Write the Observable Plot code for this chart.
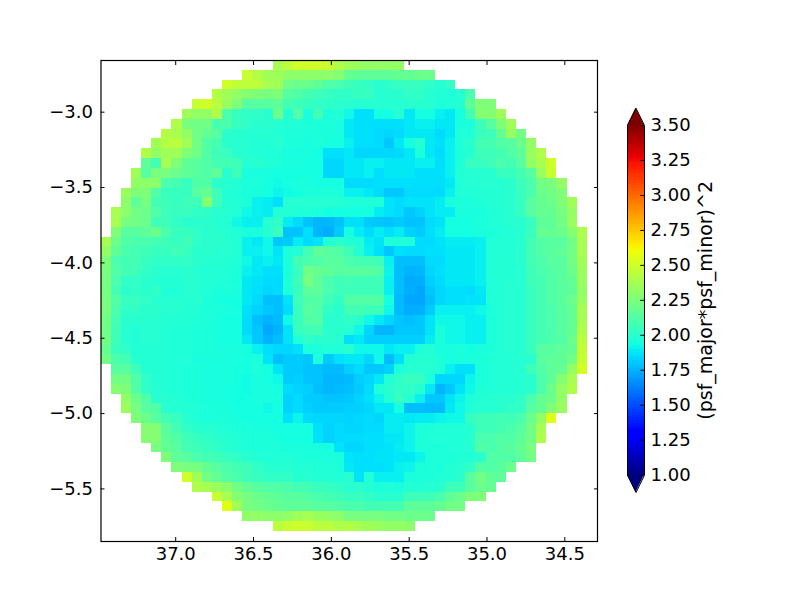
<!DOCTYPE html>
<html><head><meta charset="utf-8">
<script src="https://cdn.jsdelivr.net/npm/d3@7"></script>
<script src="https://cdn.jsdelivr.net/npm/@observablehq/plot@0.6"></script>
<style>
html,body{margin:0;padding:0;background:#fff}
#c{position:relative;width:800px;height:600px;overflow:hidden}
#c svg{position:absolute;left:0;top:0;background:transparent}
</style></head><body><div id="c"></div>
<script>
const colorLabel = "(psf_major*psf_minor)^2";
const xTicks = [37, 36.5, 36, 35.5, 35, 34.5];
const yTicks = [-3, -3.5, -4, -4.5, -5, -5.5];
const barTicks = [1, 1.25, 1.5, 1.75, 2, 2.25, 2.5, 2.75, 3, 3.25, 3.5];
const colorDomain = [1, 3.5];
const xFirstEdge = 37.48, yFirstEdge = -2.657, binSize = 0.0651;
const xLimits = [37.48, 34.29], yLimits = [-5.849, -2.657];
// first filled column of each row
const rowStarts = [17,14,12,11,9,8,7,6,5,4,4,3,3,2,2,1,1,1,0,0,0,0,0,0,0,0,0,0,0,0,0,1,1,1,2,2,3,4,4,5,6,7,8,9,11,12,14,17];
// values x100, row by row
const rows = [
[238,245,250,250,250,248,240,236,234,232,232,232,232],
[248,242,236,236,230,230,230,230,230,228,218,216,216,216,216,218,218,220,220],
[250,246,245,245,238,236,222,220,220,216,212,210,206,204,202,200,202,204,204,204,202,199,202],
[242,236,232,228,226,224,226,214,212,208,206,204,202,202,204,204,199,200,200,202,202,199,198,197,199,210],
[248,250,244,234,226,214,214,214,216,208,206,204,202,202,200,200,199,199,199,199,199,200,200,199,196,197,198,216,226,226],
[236,232,232,240,210,204,202,202,200,220,198,212,195,208,196,198,192,186,186,194,194,199,188,194,194,190,188,194,208,228,228,236],
[240,224,222,222,208,210,204,202,200,200,199,198,197,196,196,196,195,188,186,186,186,186,186,188,190,190,188,188,195,196,206,214,226,236],
[242,238,232,222,218,214,200,200,199,199,199,198,196,196,196,196,195,195,188,186,186,185,184,185,188,188,188,185,188,197,197,204,206,218,234,222],
[236,242,244,236,222,212,208,200,199,199,198,198,199,196,196,195,196,195,194,190,186,186,185,180,188,194,199,188,186,190,197,200,208,208,212,214,220,232],
[240,232,236,236,226,222,212,206,204,200,199,198,197,197,195,195,195,194,186,186,188,184,184,184,184,185,188,196,188,185,190,196,199,206,206,208,212,216,234,240],
[216,208,238,226,216,214,212,208,208,206,199,199,198,197,195,195,194,194,184,184,188,188,190,190,188,188,188,190,190,186,190,197,204,204,206,210,208,214,232,238,250],
[236,214,224,224,220,216,214,212,216,200,206,195,195,195,194,194,194,194,194,184,184,188,188,190,186,188,188,188,186,186,186,190,198,199,199,199,204,204,208,214,234,248],
[232,230,230,210,208,204,212,212,200,199,198,196,196,194,193,194,195,195,194,194,194,185,185,185,186,186,186,186,186,186,186,188,197,199,199,199,199,200,206,210,222,224,232],
[234,226,226,212,204,204,204,214,218,206,198,197,195,195,194,191,193,194,196,196,196,196,190,190,188,185,180,180,185,185,185,185,190,197,197,198,198,199,200,204,210,220,222,226],
[230,216,224,208,206,204,206,206,228,206,198,198,196,190,189,186,199,199,199,199,199,199,197,197,197,197,187,185,187,187,187,189,195,196,196,197,198,199,200,204,214,218,220,226,236],
[238,230,222,220,212,206,204,204,202,202,200,199,197,192,190,189,198,198,197,197,196,194,194,194,194,194,189,187,185,180,183,187,189,189,195,195,195,197,198,200,204,214,218,218,224,232],
[238,224,222,220,206,206,202,200,200,200,199,198,192,190,190,199,202,189,185,179,176,176,179,186,186,181,180,179,181,179,179,185,187,194,194,194,196,197,198,199,200,204,216,216,222,234],
[226,214,214,216,220,210,204,204,202,200,200,199,197,195,195,199,204,179,179,186,176,174,181,194,189,185,189,186,189,183,181,186,189,194,194,194,195,196,197,198,199,204,218,218,220,228,240],
[238,220,212,210,210,208,206,204,206,202,200,200,199,198,190,188,192,180,181,189,185,187,198,200,198,197,189,187,197,197,197,185,185,187,189,189,189,190,197,198,198,199,208,212,214,214,222,238],
[232,216,210,208,206,204,204,206,204,200,200,199,199,198,190,190,192,187,196,198,208,216,214,212,206,198,190,186,180,186,185,185,186,186,188,188,188,190,197,198,198,200,208,212,214,216,222,238],
[226,210,208,208,204,202,202,202,202,200,199,199,198,197,192,188,190,188,196,208,210,212,214,214,210,208,208,206,190,178,178,178,185,185,188,188,188,190,197,198,198,200,208,210,214,214,222,236],
[224,212,208,206,202,200,199,199,200,199,198,198,197,196,190,188,186,186,196,204,222,218,216,214,214,214,214,212,191,178,175,176,184,186,188,188,188,190,197,198,198,199,206,210,212,214,220,234],
[224,210,202,202,200,199,198,198,199,199,198,197,197,196,188,187,185,185,197,206,224,216,210,206,208,206,206,206,190,178,173,174,182,185,188,188,188,190,197,198,199,199,206,208,212,214,218,234],
[224,208,200,202,200,202,197,197,199,199,197,196,196,195,188,186,184,185,197,204,216,216,210,206,206,206,206,206,190,178,174,172,180,184,186,186,185,188,197,198,199,199,204,208,212,214,216,232],
[224,212,204,204,202,200,199,199,199,199,196,195,194,194,188,185,178,178,187,206,212,212,206,202,212,212,212,212,194,177,172,172,178,184,186,186,187,187,197,198,199,199,204,208,212,214,220,234],
[224,210,202,202,200,200,199,199,198,198,196,196,195,194,186,183,180,178,185,204,214,212,202,200,208,208,206,206,192,177,174,174,181,190,190,190,190,192,196,198,199,199,204,208,210,214,218,238],
[222,208,200,199,200,199,198,198,198,197,196,195,194,194,185,178,175,177,192,204,212,212,200,200,202,200,192,188,184,180,178,180,187,192,192,192,190,190,196,198,199,199,204,208,210,214,218,238],
[222,206,199,198,199,199,198,197,197,196,196,195,194,194,185,180,172,175,187,204,206,208,200,200,199,192,184,176,176,180,180,180,187,196,192,192,190,190,196,198,199,199,204,208,210,214,218,240],
[222,206,199,198,199,199,198,197,197,196,196,195,194,194,188,180,175,178,187,197,202,200,200,199,186,188,182,182,182,182,182,182,189,196,192,192,190,190,196,198,199,199,204,208,210,212,220,244],
[218,204,202,198,198,198,198,197,197,196,196,195,195,195,194,190,186,184,184,186,196,196,197,197,199,192,192,192,188,190,190,196,198,195,195,196,194,195,196,198,199,199,204,214,214,216,218,246],
[222,210,208,199,198,198,198,197,197,195,195,195,195,195,194,196,187,178,181,181,180,196,181,186,188,188,184,192,177,186,198,199,199,197,194,195,195,196,197,198,198,199,200,214,216,216,222,248],
[214,214,206,198,198,198,197,196,196,195,195,195,194,194,196,194,187,181,181,179,179,177,177,182,185,180,180,183,196,199,199,199,197,190,186,186,196,197,198,198,199,206,212,216,218,232,252],
[222,222,212,202,198,198,197,196,196,195,195,195,194,193,195,194,192,181,182,179,179,176,176,177,182,184,188,198,202,204,204,196,184,184,184,191,196,197,198,198,199,200,210,216,228,238],
[228,226,212,202,199,198,197,196,196,195,195,194,194,193,195,195,194,185,183,182,178,176,177,178,181,185,197,200,202,202,199,188,176,180,187,192,197,197,198,198,199,200,210,220,232,240],
[232,220,212,200,199,198,197,196,195,195,194,194,194,195,195,195,183,185,181,181,179,179,180,183,186,191,198,204,199,190,180,180,187,191,196,198,199,200,200,202,210,218,220,232],
[234,224,214,212,200,199,198,197,196,195,195,194,194,194,192,194,183,185,182,181,181,181,182,182,184,188,188,194,178,178,177,177,188,192,197,199,199,200,202,202,214,218,226,234],
[226,220,214,208,204,199,197,196,196,195,195,194,194,194,194,186,191,185,184,184,184,183,184,185,184,189,189,188,189,189,191,192,192,204,206,206,208,206,210,220,232,256],
[228,228,214,208,202,200,199,199,197,196,196,195,195,194,194,194,194,186,183,185,184,184,185,185,189,189,191,196,196,197,197,197,199,206,206,208,210,214,222,238],
[228,228,216,212,206,204,202,200,199,198,196,196,196,195,194,194,194,187,183,185,185,185,186,186,188,188,191,196,197,197,197,197,199,210,210,212,212,216,222,240],
[224,218,214,208,206,204,202,199,198,197,196,196,196,195,195,195,195,194,187,184,184,186,186,187,189,191,196,196,196,197,197,199,212,210,212,214,218,224],
[226,216,214,210,208,206,204,202,199,198,197,197,197,196,196,196,196,195,187,186,186,187,187,188,188,191,196,196,196,197,197,200,212,212,212,216,222],
[226,224,224,218,214,210,208,206,202,200,199,199,198,198,197,197,196,188,186,186,186,187,190,191,196,196,196,198,199,202,212,212,214,220],
[250,236,222,218,212,210,206,204,202,202,202,199,199,198,198,197,199,187,197,190,190,190,195,196,196,197,198,200,214,222,216,216],
[240,238,234,230,222,218,214,212,212,210,208,208,204,204,202,200,200,198,196,197,195,198,198,199,200,206,206,214,220,218],
[248,238,228,224,220,218,216,214,214,212,210,208,206,204,204,202,200,200,200,206,206,206,210,216,220,226,226],
[256,236,224,222,220,218,216,216,216,214,214,212,210,210,208,208,208,208,216,216,216,218,222,222],
[232,232,230,230,232,236,238,234,232,230,224,224,224,224,222,222,220,220,220],
[244,248,250,248,244,244,240,242,238,236,234,232,232,230]
];
const barLevels = d3.range(128).map(i => 1 + (i + 0.5) * 2.5 / 128);
const barStep = 2.5 / 128;
const arrowHeight = 0.124;

function lerp(stops, t) {
  for (let i = 1; i < stops.length; i++) {
    if (t <= stops[i][0]) {
      const [a, va] = stops[i - 1], [b, vb] = stops[i];
      return va + (vb - va) * (t - a) / (b - a);
    }
  }
  return stops[stops.length - 1][1];
}
const jetR = [[0,0],[.35,0],[.66,1],[.89,1],[1,.5]];
const jetG = [[0,0],[.125,0],[.375,1],[.64,1],[.91,0],[1,0]];
const jetB = [[0,.5],[.11,1],[.34,1],[.65,0],[1,0]];
const jet = t => {
  const c = v => Math.round(255 * Math.max(0, Math.min(1, v)));
  return `rgb(${c(lerp(jetR, t))},${c(lerp(jetG, t))},${c(lerp(jetB, t))})`;
};

const cells = rows.flatMap((row, i) => row.map((v, k) => {
  const j = rowStarts[i] + k;
  return {
    x1: xFirstEdge - j * binSize, x2: xFirstEdge - (j + 1) * binSize,
    y1: yFirstEdge - i * binSize, y2: yFirstEdge - (i + 1) * binSize,
    v: v / 100
  };
}));

const font = {fontFamily: "'DejaVu Sans'", fontSize: "18px", overflow: "visible", background: "transparent"};
const colorOpt = {type: "linear", domain: colorDomain, interpolate: jet, clamp: true};

const main = Plot.plot({
  width: 800, height: 600,
  marginLeft: 100.5, marginRight: 203, marginTop: 60, marginBottom: 59,
  style: font,
  x: {domain: xLimits, label: null, axis: null},
  y: {domain: yLimits, label: null, axis: null},
  color: colorOpt,
  marks: [
    Plot.rect(cells, {x1: "x1", x2: "x2", y1: "y1", y2: "y2", fill: "v", shapeRendering: "crispEdges", inset: 0}),
    Plot.axisX(xTicks, {anchor: "bottom", tickSize: -4, tickPadding: 10, tickFormat: d3.format(".1f"), fill: "black", stroke: "black", label: null, fontSize: 18}),
    Plot.axisX(xTicks, {anchor: "top", tickSize: -4, tickFormat: () => "", stroke: "black", label: null}),
    Plot.axisY(yTicks, {anchor: "left", tickSize: -4, tickPadding: 12, tickFormat: d3.format(".1f"), fill: "black", stroke: "black", label: null, fontSize: 18}),
    Plot.axisY(yTicks, {anchor: "right", tickSize: -4, tickFormat: () => "", stroke: "black", label: null}),
    Plot.frame({stroke: "black", strokeWidth: 1.2})
  ]
});

const topTri = [{x:0,y1:3.5,y2:3.5},{x:.5,y1:3.5,y2:3.5+arrowHeight},{x:1,y1:3.5,y2:3.5}];
const botTri = [{x:0,y1:1,y2:1},{x:.5,y1:1-arrowHeight,y2:1},{x:1,y1:1,y2:1}];
const outline = [[0,1],[.5,1-arrowHeight],[1,1],[1,3.5],[.5,3.5+arrowHeight],[0,3.5],[0,1]];

const bar = Plot.plot({
  width: 800, height: 600,
  marginLeft: 627, marginRight: 156, marginTop: 107.7, marginBottom: 108,
  style: font,
  x: {domain: [0, 1], axis: null, label: null},
  y: {domain: [1 - arrowHeight, 3.5 + arrowHeight], axis: null, label: null},
  color: colorOpt,
  marks: [
    Plot.rect(barLevels, {x1: 0, x2: 1, y1: d => d - barStep / 2, y2: d => d + barStep / 2, fill: d => d, shapeRendering: "crispEdges", inset: -0.2}),
    Plot.areaY(topTri, {x: "x", y1: "y1", y2: "y2", fill: "#7f0000"}),
    Plot.areaY(botTri, {x: "x", y1: "y1", y2: "y2", fill: "#00007f"}),
    Plot.line(outline, {x: d => d[0], y: d => d[1], stroke: "black", strokeWidth: 1}),
    Plot.ruleY(barTicks, {x1: 0.78, x2: 1, stroke: "black", strokeWidth: 1}),
    Plot.text(barTicks, {x: 1, y: d => d, text: d3.format(".2f"), textAnchor: "start", dx: 6, fontSize: 18, fill: "black"}),
    Plot.text([colorLabel], {x: 1, y: 2.25, text: d => d, rotate: -90, dx: 61, fontSize: 19, fill: "black"})
  ]
});

const host = document.getElementById("c");
host.appendChild(main);
host.appendChild(bar);
</script>
</body></html>
